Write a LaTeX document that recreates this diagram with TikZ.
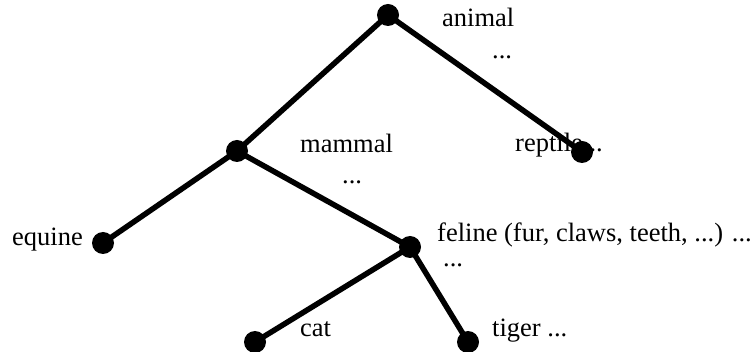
\documentclass[tikz,border=0pt]{standalone}
\usepackage{fontspec}
\setmainfont{Liberation Serif}
\begin{document}
\begin{tikzpicture}[x=1pt,y=-1pt,
  dot/.style={circle,fill=black,inner sep=0pt,minimum size=22pt},
  lbl/.style={anchor=base west,inner sep=0pt,font=\fontsize{26.5}{30}\selectfont},
  edge/.style={line width=5.5pt}]
\useasboundingbox (0,0) rectangle (755,352);
% labels
\node[lbl] (tanimal) at (442,27) {animal};
\node[lbl] (danimal) at (492,59) {...};
\node[lbl] (tmammal) at (300,153) {mammal};
\node[lbl] (dmammal) at (342,184) {...};
\node[lbl] (treptile) at (515,152) {reptile...};
\node[lbl] (tequine) at (12,246) {equine};
\node[lbl] (tfeline) at (437,242) {feline (fur, claws, teeth, ...) ...};
\node[lbl] (dfeline) at (443,267) {...};
\node[lbl] (tcat) at (300,337) {cat};
\node[lbl] (ttiger) at (492,337) {tiger ...};
% dot positions
\coordinate (animal) at (388,15);
\coordinate (mammal) at (237,151);
\coordinate (reptile) at (582,152);
\coordinate (equine) at (103,243);
\coordinate (feline) at (410,247);
\coordinate (cat) at (255,342);
\coordinate (tiger) at (468,342);
% edges
\draw[edge] (animal) -- (mammal);
\draw[edge] (animal) -- (reptile);
\draw[edge] (mammal) -- (equine);
\draw[edge] (mammal) -- (feline);
\draw[edge] (feline) -- (cat);
\draw[edge] (feline) -- (tiger);
% dots
\foreach \n in {animal,mammal,reptile,equine,feline,cat,tiger}
  \node[dot] (d\n) at (\n) {};
\end{tikzpicture}
\end{document}
